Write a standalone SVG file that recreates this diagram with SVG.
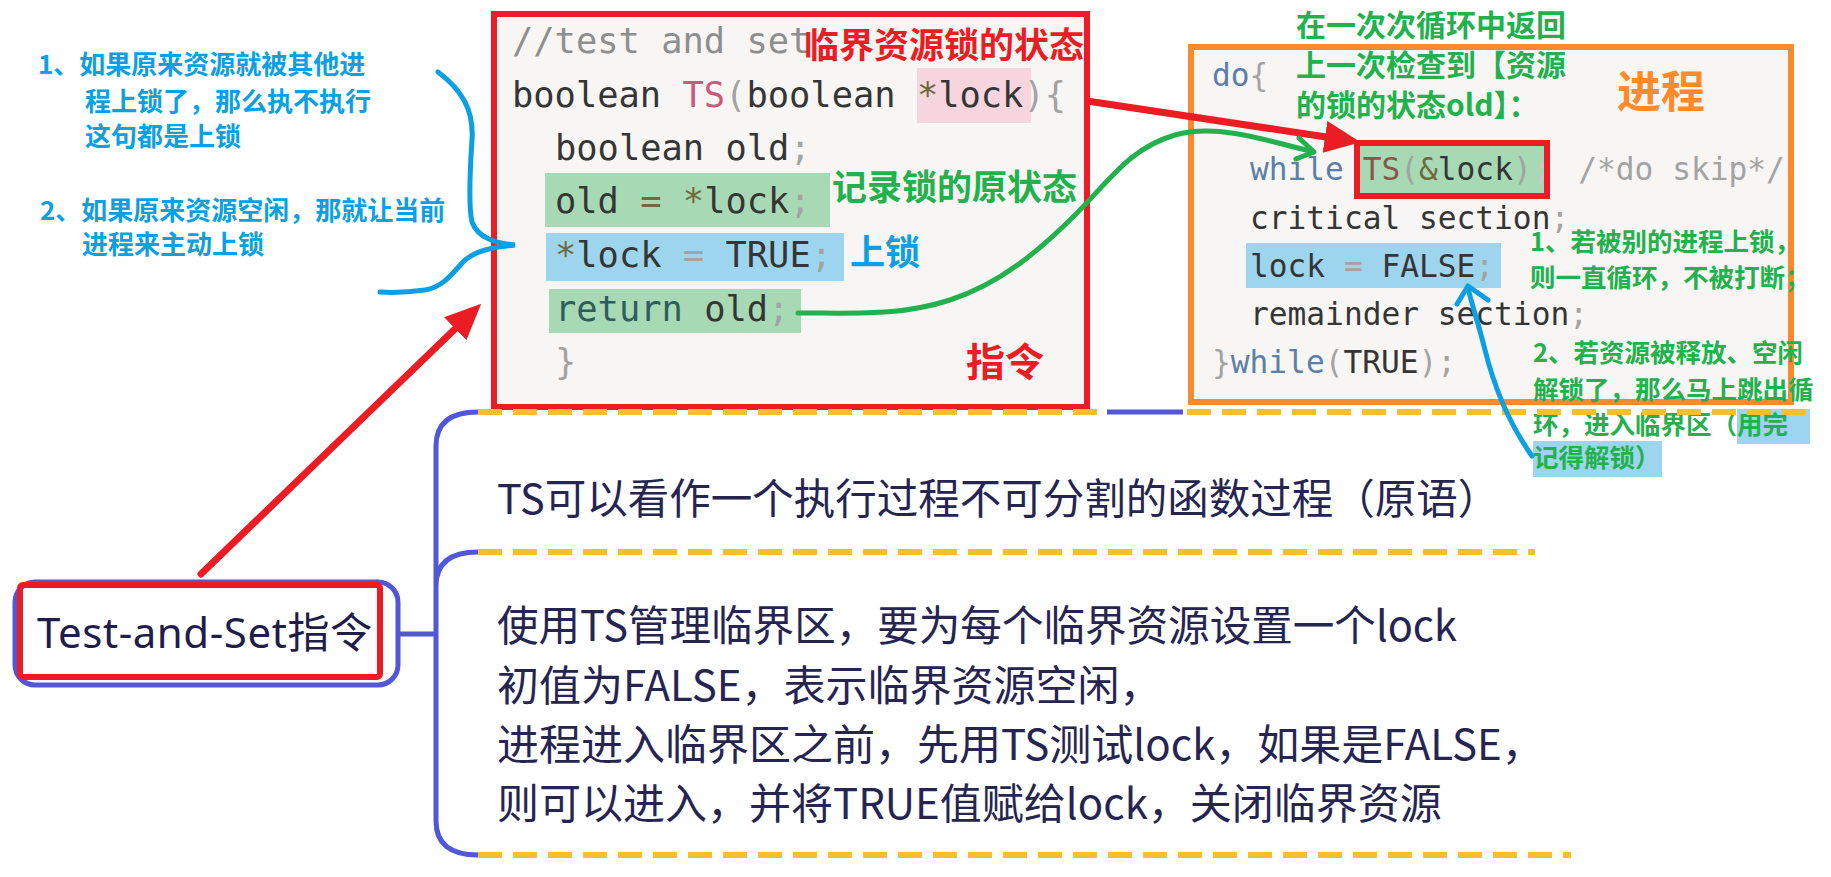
<svg xmlns="http://www.w3.org/2000/svg" width="1831" height="877" viewBox="0 0 1831 877">
<style>
.mono{font-family:"DejaVu Sans Mono","Liberation Mono",monospace;white-space:pre}
.c1{font-size:35.4px}.c2{font-size:31.2px}
.cm{fill:#8e8e8e}.dk{fill:#353535}.gy{fill:#a3a3a3}.fa{fill:#c9c9c9}.ol{fill:#6f6a3c}.ts{fill:#c85b7a}.kw{fill:#5c7fa8}.rt{fill:#2f5c5e}.tb{fill:#8a5648}
.cjk{font-family:"Noto Sans CJK SC","Noto Sans",sans-serif;font-weight:bold}
.blue{fill:#0b9fe3}.green{fill:#22b14c}.red{fill:#ec1c24}.orange{fill:#ff8a2a}
.mm{font-family:"Noto Sans CJK SC","Noto Sans",sans-serif;fill:#262552}
.box{fill:#f7f6f4;stroke-width:6}
.dash{fill:none;stroke:#f5c02c;stroke-width:6;stroke-dasharray:24 11}
.mline{fill:none;stroke:#5157d6;stroke-width:5}
.hlg{fill:#a6d9b4}.hlb{fill:#9dd5ee}.hlp{fill:#f6d5de}
</style>
<defs>
<marker id="redHead" viewBox="0 0 36 34" refX="1" refY="17" markerWidth="36" markerHeight="34" markerUnits="userSpaceOnUse" orient="auto">
<path d="M0,1 L36,17 L0,33 Z" fill="#ec1c24"/>
</marker>
</defs>
<rect width="1831" height="877" fill="#ffffff"/>

<g id="annotation-left" class="cjk blue" font-size="26">
<text x="38" y="74">1、如果原来资源就被其他进</text>
<text x="85" y="111">程上锁了，那么执不执行</text>
<text x="85" y="146">这句都是上锁</text>
<text x="40" y="220">2、如果原来资源空闲，那就让当前</text>
<text x="82" y="254">进程来主动上锁</text>
</g>

<g id="ts-instruction">
<rect class="box" x="494" y="14" width="593" height="393" stroke="#ec1c24"/>
<rect class="hlp" x="917" y="68" width="114" height="55"/>
<rect class="hlg" x="545" y="173" width="285" height="54"/>
<rect class="hlb" x="546" y="233" width="298" height="48"/>
<rect class="hlg" x="549" y="289" width="252" height="44"/>
<text class="mono c1" x="512" y="53"><tspan class="cm">//test and set</tspan></text>
<text class="mono c1" x="512" y="107"><tspan class="dk">boolean </tspan><tspan class="ts">TS</tspan><tspan class="gy">(</tspan><tspan class="dk">boolean </tspan><tspan class="ol">*</tspan><tspan class="dk">lock</tspan><tspan class="gy">){</tspan></text>
<text class="mono c1" x="555" y="160"><tspan class="dk">boolean old</tspan><tspan class="gy">;</tspan></text>
<text class="mono c1" x="555" y="213"><tspan class="dk">old </tspan><tspan class="ol">= *</tspan><tspan class="dk">lock</tspan><tspan class="gy">;</tspan></text>
<text class="mono c1" x="555" y="267"><tspan class="ol">*</tspan><tspan class="dk">lock </tspan><tspan class="gy">= </tspan><tspan class="dk">TRUE</tspan><tspan class="gy">;</tspan></text>
<text class="mono c1" x="555" y="321"><tspan class="rt">return </tspan><tspan class="dk">old</tspan><tspan class="gy">;</tspan></text>
<text class="mono c1" x="555" y="374"><tspan class="gy">}</tspan></text>
<text class="cjk red" font-size="35" x="804" y="58">临界资源锁的状态</text>
<text class="cjk green" font-size="35" x="832" y="200">记录锁的原状态</text>
<text class="cjk blue" font-size="35" x="850" y="265">上锁</text>
<text class="cjk red" font-size="39" x="966" y="376">指令</text>
</g>

<g id="process">
<rect class="box" x="1191" y="47" width="600" height="355" stroke="#fb8a2c"/>
<rect class="hlg" x="1357" y="143" width="190" height="53"/>
<rect class="hlb" x="1246" y="243" width="255" height="45"/>
<text class="mono c2" x="1212" y="86"><tspan class="kw">do</tspan><tspan class="gy">{</tspan></text>
<text class="mono c2" x="1250" y="180"><tspan class="kw">while </tspan><tspan class="tb">TS</tspan><tspan class="gy">(</tspan><tspan class="ol">&amp;</tspan><tspan class="dk">lock</tspan><tspan class="gy">)</tspan><tspan class="fa">;</tspan><tspan class="gy" dx="9"> /*do skip*/</tspan></text>
<text class="mono c2" x="1250" y="229"><tspan class="dk">critical section</tspan><tspan class="gy">;</tspan></text>
<text class="mono c2" x="1250" y="277"><tspan class="dk">lock </tspan><tspan class="gy">= </tspan><tspan class="dk">FALSE</tspan><tspan class="gy">;</tspan></text>
<text class="mono c2" x="1250" y="325"><tspan class="dk">remainder section</tspan><tspan class="gy">;</tspan></text>
<text class="mono c2" x="1212" y="373"><tspan class="gy">}</tspan><tspan class="kw">while</tspan><tspan class="gy">(</tspan><tspan class="dk">TRUE</tspan><tspan class="gy">);</tspan></text>
<rect x="1357" y="143" width="190" height="53" fill="none" stroke="#ec1c24" stroke-width="6"/>
<text class="cjk orange" font-size="44" x="1617" y="108">进程</text>
<g class="cjk green" font-size="30">
<text x="1296" y="36">在一次次循环中返回</text>
<text x="1296" y="76">上一次检查到【资源</text>
<text x="1296" y="116">的锁的状态old】：</text>
</g>
</g>

<g id="annotation-right">
<rect class="hlb" x="1737" y="409" width="73" height="35"/>
<rect class="hlb" x="1533" y="441" width="129" height="36"/>
<g class="cjk green" font-size="25.5">
<text x="1530" y="251">1、若被别的进程上锁，</text>
<text x="1530" y="287">则一直循环，不被打断；</text>
<text x="1533" y="362">2、若资源被释放、空闲</text>
<text x="1533" y="399">解锁了，那么马上跳出循</text>
<text x="1533" y="434">环，进入临界区（用完</text>
<text x="1533" y="467">记得解锁）</text>
</g>
</g>

<g id="root-node">
<rect x="15" y="582" width="383" height="103" rx="20" fill="#ffffff" stroke="#5157d6" stroke-width="5"/>
<rect x="20" y="585" width="360" height="92" rx="3" fill="none" stroke="#ec1c24" stroke-width="6"/>
<text x="37" y="648" font-family="'Noto Sans','Noto Sans CJK SC',sans-serif" font-size="42" fill="#1f1d4a" textLength="335" lengthAdjust="spacing">Test-and-Set指令</text>
</g>

<g id="branch-1">
<text class="mm" font-size="41.5" x="497" y="514">TS可以看作一个执行过程不可分割的函数过程（原语）</text>
</g>

<g id="branch-2" class="mm" font-size="42">
<text x="497" y="641" textLength="960" lengthAdjust="spacingAndGlyphs">使用TS管理临界区，要为每个临界资源设置一个lock</text>
<text x="497" y="701">初值为FALSE，表示临界资源空闲，</text>
<text x="497" y="760">进程进入临界区之前，先用TS测试lock，如果是FALSE，</text>
<text x="497" y="819">则可以进入，并将TRUE值赋给lock，关闭临界资源</text>
</g>

<g id="connectors">
<path class="mline" d="M397,634 L436,634 M478,412 Q436,412 436,446 L436,821 Q436,855 478,855 M478,552 Q436,552 436,586"/>
<path class="mline" d="M1107,412 L1183,412"/>
<path class="dash" d="M478,412 L1107,412 M1187,412 L1811,412"/>
<path class="dash" d="M478,552 L1535,552"/>
<path class="dash" d="M478,855 L1571,855"/>
<path d="M201,574 L456,328" stroke="#ec1c24" stroke-width="7" stroke-linecap="round" fill="none" marker-end="url(#redHead)"/>
<path d="M1087,101 L1326,137" stroke="#ec1c24" stroke-width="7" fill="none" marker-end="url(#redHead)"/>
<path d="M798,313 C860,313 900,316 950,300 C1000,284 1040,250 1075,215 C1110,180 1130,148 1175,135 C1215,124 1260,138 1313,152" stroke="#22b14c" stroke-width="5" fill="none" stroke-linecap="round"/>
<path d="M1299,138 L1314,152 L1296,159" stroke="#22b14c" stroke-width="5" fill="none" stroke-linecap="round" stroke-linejoin="round"/>
<path d="M438,72 C462,90 474,110 472,140 C470,170 468,205 472,222 C478,238 495,243 515,245 C495,247 475,250 463,262 C450,277 440,288 425,290 C410,292 395,293 380,292" stroke="#0b9fe3" stroke-width="5" fill="none" stroke-linecap="round"/>
<path d="M1532,456 C1510,425 1495,390 1485,350 C1478,322 1472,305 1468,288" stroke="#0b9fe3" stroke-width="5" fill="none" stroke-linecap="round"/>
<path d="M1457,304 L1468,286 L1488,300" stroke="#0b9fe3" stroke-width="5" fill="none" stroke-linecap="round" stroke-linejoin="round"/>
</g>
</svg>
